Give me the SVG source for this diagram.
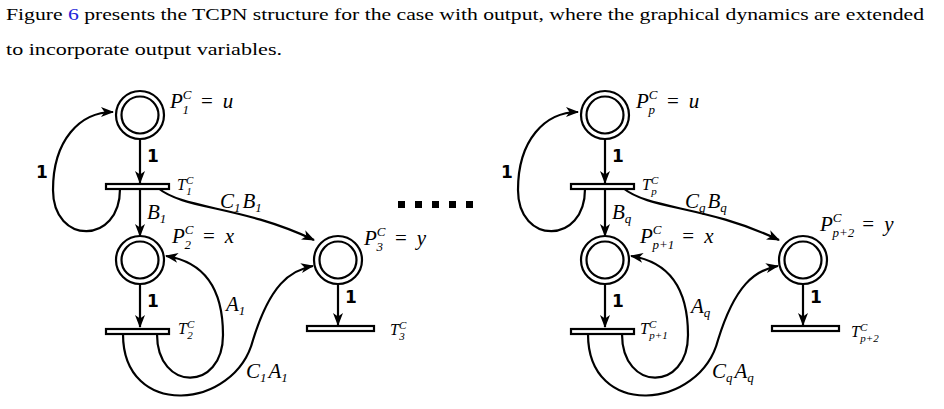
<svg xmlns="http://www.w3.org/2000/svg" width="944" height="409" viewBox="0 0 944 409">
<style>
text{font-family:"Liberation Serif","DejaVu Serif",serif;fill:#000}
.m{font-style:italic;font-size:21px}
.t{font-size:16px;font-style:italic}
.s{font-size:13px}
.u{font-size:11px}
.b{font-family:"DejaVu Sans","Liberation Sans",sans-serif;font-weight:bold;font-size:17px}
.po{fill:#fff;stroke:#000;stroke-width:2.2}
.pi{fill:none;stroke:#000;stroke-width:2.2}
.tr{fill:#fff;stroke:#000;stroke-width:2.2}
.a{fill:none;stroke:#000;stroke-width:2.2;marker-end:url(#ah)}
</style>
<defs>
<marker id="ah" markerUnits="userSpaceOnUse" markerWidth="14" markerHeight="10" refX="12" refY="5" orient="auto">
<path d="M0,0 L13,5 L0,10 L3.5,5 z" fill="#000"/>
</marker>
<g id="net">
<g class="conn">
<path class="a" d="M140,140 L140,183"/>
<path class="a" d="M140,189 L140,236"/>
<path class="a" d="M140,284 L140,327"/>
<path class="a" d="M338,284 L338,325"/>
<path class="a" d="M120,189 C120,245 53,245 53,190 C53,140 80,112 113,112"/>
<path class="a" d="M158,188 C185,210 240,205 314,240"/>
<path class="a" d="M157,334 C157,392 223,392 223,335 C223,290 205,262 166,256"/>
<path class="a" d="M123,334 C123,420 235,410 253,340 C270,285 290,270 313,266"/>
</g>
<g><circle class="po" cx="140" cy="115" r="24"/><circle class="pi" cx="140" cy="115" r="18.5"/></g>
<g><circle class="po" cx="140" cy="260" r="24"/><circle class="pi" cx="140" cy="260" r="18.5"/></g>
<g><circle class="po" cx="338" cy="260" r="24"/><circle class="pi" cx="338" cy="260" r="18.5"/></g>
<rect class="tr" x="106" y="184" width="63" height="5"/>
<rect class="tr" x="106" y="329" width="63" height="5"/>
<rect class="tr" x="307" y="326" width="67" height="5"/>
<text class="b" x="36" y="178">1</text>
<text class="b" x="147" y="162">1</text>
<text class="b" x="147" y="307">1</text>
<text class="b" x="345" y="303">1</text>
</g>
</defs>
<text x="6" y="20" font-size="16" textLength="918" lengthAdjust="spacingAndGlyphs">Figure <tspan fill="#2323d8">6</tspan> presents the TCPN structure for the case with output, where the graphical dynamics are extended</text>
<text x="6" y="55" font-size="16" textLength="276" lengthAdjust="spacingAndGlyphs">to incorporate output variables.</text>

<g id="left"><use href="#net"/></g>
<g id="right"><use href="#net" transform="translate(465,0)"/></g>

<g id="dots" fill="#000">
<rect x="398" y="201" width="7" height="7"/><rect x="415" y="201" width="7" height="7"/><rect x="432" y="201" width="7" height="7"/><rect x="449" y="201" width="7" height="7"/><rect x="466" y="201" width="7" height="7"/>
</g>

<g id="labels-left">
<text class="m" x="170" y="108">P<tspan class="s" dy="-9">C</tspan><tspan class="s" dx="-9" dy="15">1</tspan><tspan font-style="normal" dx="12" dy="-6">=</tspan><tspan dx="10">u</tspan></text>
<text class="t" x="177" y="190">T<tspan class="u" dy="-6">C</tspan><tspan class="u" dx="-7" dy="11">1</tspan></text>
<text class="m" x="147" y="219">B<tspan class="s" dy="4">1</tspan></text>
<text class="m" x="172" y="243">P<tspan class="s" dy="-9">C</tspan><tspan class="s" dx="-9" dy="15">2</tspan><tspan font-style="normal" dx="12" dy="-6">=</tspan><tspan dx="10">x</tspan></text>
<text class="m" x="220" y="208">C<tspan class="s" dy="4">1</tspan><tspan dx="2" dy="-4">B</tspan><tspan class="s" dy="4">1</tspan></text>
<text class="m" x="364" y="245">P<tspan class="s" dy="-9">C</tspan><tspan class="s" dx="-9" dy="15">3</tspan><tspan font-style="normal" dx="12" dy="-6">=</tspan><tspan dx="10">y</tspan></text>
<text class="m" x="226" y="311">A<tspan class="s" dy="4">1</tspan></text>
<text class="t" x="178" y="334">T<tspan class="u" dy="-6">C</tspan><tspan class="u" dx="-7" dy="11">2</tspan></text>
<text class="m" x="246" y="378">C<tspan class="s" dy="4">1</tspan><tspan dx="2" dy="-4">A</tspan><tspan class="s" dy="4">1</tspan></text>
<text class="t" x="390" y="335">T<tspan class="u" dy="-6">C</tspan><tspan class="u" dx="-7" dy="11">3</tspan></text>
</g>

<g id="labels-right">
<text class="m" x="636" y="108">P<tspan class="s" dy="-9">C</tspan><tspan class="s" dx="-9" dy="15">p</tspan><tspan font-style="normal" dx="12" dy="-6">=</tspan><tspan dx="10">u</tspan></text>
<text class="t" x="642" y="190">T<tspan class="u" dy="-6">C</tspan><tspan class="u" dx="-7" dy="11">p</tspan></text>
<text class="m" x="612" y="219">B<tspan class="s" dy="4">q</tspan></text>
<text class="m" x="640" y="243">P<tspan class="s" dy="-9">C</tspan><tspan class="s" dx="-9" dy="15">p+1</tspan><tspan font-style="normal" dx="8" dy="-6">=</tspan><tspan dx="10">x</tspan></text>
<text class="m" x="685" y="208">C<tspan class="s" dy="4">q</tspan><tspan dx="2" dy="-4">B</tspan><tspan class="s" dy="4">q</tspan></text>
<text class="m" x="820" y="231">P<tspan class="s" dy="-9">C</tspan><tspan class="s" dx="-9" dy="15">p+2</tspan><tspan font-style="normal" dx="8" dy="-6">=</tspan><tspan dx="10">y</tspan></text>
<text class="m" x="691" y="313">A<tspan class="s" dy="4">q</tspan></text>
<text class="t" x="640" y="334">T<tspan class="u" dy="-6">C</tspan><tspan class="u" dx="-7" dy="11">p+1</tspan></text>
<text class="m" x="712" y="378">C<tspan class="s" dy="4">q</tspan><tspan dx="2" dy="-4">A</tspan><tspan class="s" dy="4">q</tspan></text>
<text class="t" x="851" y="337">T<tspan class="u" dy="-6">C</tspan><tspan class="u" dx="-7" dy="11">p+2</tspan></text>
</g>
</svg>
